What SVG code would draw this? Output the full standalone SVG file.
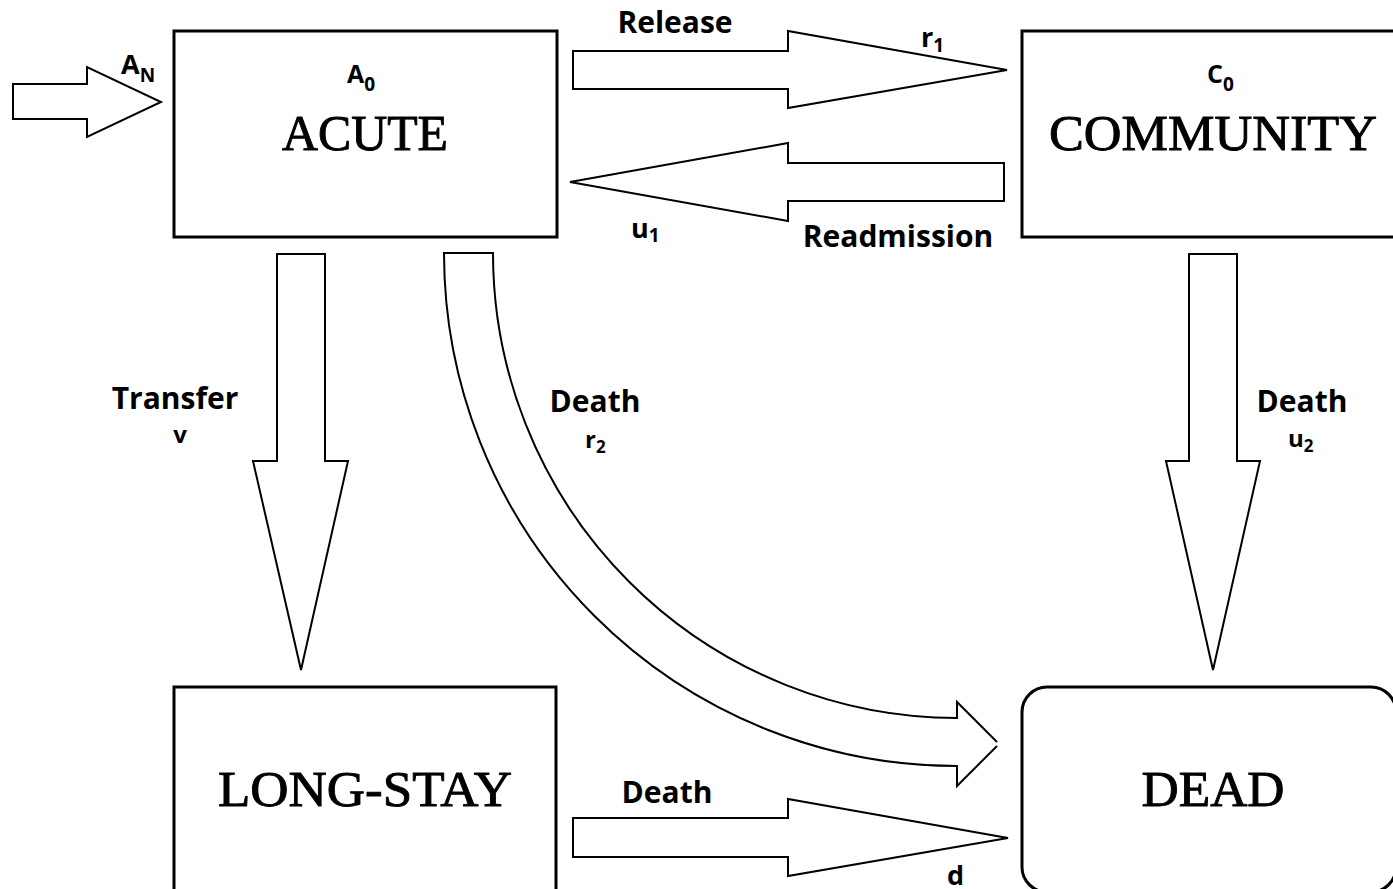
<svg xmlns="http://www.w3.org/2000/svg" width="1393" height="889" viewBox="0 0 1393 889">
  <style>
    .box { fill: #fff; stroke: #000; stroke-width: 3; }
    .arrow { fill: #fff; stroke: #000; stroke-width: 2; stroke-linejoin: miter; }
    .title { font-family: "Liberation Serif", "Times New Roman", serif; font-size: 50px; fill: #000; stroke: #000; stroke-width: 0.9; text-anchor: middle; }
    .lbl { font-family: "Open Sans", "Noto Sans", sans-serif; font-weight: bold; font-size: 30px; fill: #000; }
    .var { font-family: "Open Sans", "Noto Sans", sans-serif; font-weight: bold; font-size: 27px; fill: #000; }
    .lbl2 { font-family: "Open Sans", "Noto Sans", sans-serif; font-weight: bold; font-size: 24px; fill: #000; }
    .mid { text-anchor: middle; }
    .sub { font-size: 19px; }
    .sub2 { font-size: 17px; }
  </style>
  <rect width="1393" height="889" fill="#fff"/>

  <!-- flow arrows -->
  <g id="connectors">
    <!-- new admissions into acute -->
    <polygon class="arrow" points="13,84 87,84 87,67 161,102 87,137 87,119 13,119"/>
    <!-- release: acute to community -->
    <polygon class="arrow" points="573,51 788,51 788,31 1007,70 788,108 788,89 573,89"/>
    <!-- readmission: community to acute -->
    <polygon class="arrow" points="1004,163 788,163 788,143 570,182 788,221 788,201 1004,201"/>
    <!-- transfer: acute to long-stay -->
    <polygon class="arrow" points="277,254 325,254 325,461 348,461 301,670 253,461 277,461"/>
    <!-- death from community -->
    <polygon class="arrow" points="1189,254 1237,254 1237,461 1260,461 1213,670 1166,461 1189,461"/>
    <!-- death from long-stay -->
    <polygon class="arrow" points="573,818 788,818 788,799 1008,838 788,876 788,857 573,857"/>
    <!-- death from acute: curved band, open tip -->
    <path class="arrow" d="M997,746 L957,786 L957,766 A513,513 0 0 1 444,253 L493,253 A465,465 0 0 0 957,718 L957,702 L997,742"/>
  </g>

  <g id="acute">
    <rect class="box" x="174" y="31" width="383" height="206"/>
    <text class="var" x="347" y="83" style="font-size:25px">A<tspan class="sub" dy="8">0</tspan></text>
    <text class="title" x="365" y="150" textLength="166" lengthAdjust="spacingAndGlyphs">ACUTE</text>
  </g>

  <g id="community">
    <rect class="box" x="1022" y="31" width="380" height="206"/>
    <text class="var" x="1207" y="83" style="font-size:25px">C<tspan class="sub" dy="8">0</tspan></text>
    <text class="title" x="1213" y="150" textLength="328" lengthAdjust="spacingAndGlyphs">COMMUNITY</text>
  </g>

  <g id="long-stay">
    <rect class="box" x="174" y="687" width="382" height="212"/>
    <text class="title" x="365" y="806" textLength="294" lengthAdjust="spacingAndGlyphs">LONG-STAY</text>
  </g>

  <g id="dead">
    <rect class="box" x="1022" y="687" width="374" height="205" rx="25" ry="25"/>
    <text class="title" x="1213" y="806" textLength="143" lengthAdjust="spacingAndGlyphs">DEAD</text>
  </g>

  <!-- rate labels -->
  <g id="labels">
    <text class="var" x="121" y="74">A<tspan class="sub" dy="8">N</tspan></text>
    <text class="lbl mid" x="675" y="33">Release</text>
    <text class="var" x="921" y="47">r<tspan class="sub" dy="5">1</tspan></text>
    <text class="var" x="631" y="238">u<tspan class="sub" dy="4">1</tspan></text>
    <text class="lbl mid" x="898" y="247">Readmission</text>
    <text class="lbl mid" x="175" y="409">Transfer</text>
    <text class="lbl2 mid" x="180" y="443">v</text>
    <text class="lbl mid" x="595" y="412">Death</text>
    <text class="lbl2" x="585" y="448">r<tspan class="sub2" dy="5">2</tspan></text>
    <text class="lbl mid" x="1302" y="412">Death</text>
    <text class="lbl2" x="1288" y="447">u<tspan class="sub2" dy="5">2</tspan></text>
    <text class="lbl mid" x="667" y="803">Death</text>
    <text class="var" x="947" y="885">d</text>
  </g>
</svg>
